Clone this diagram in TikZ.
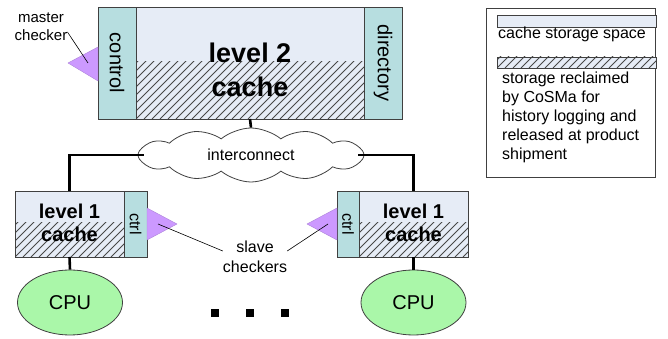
\documentclass[tikz,border=0pt]{standalone}
\usepackage{fontspec}
\setmainfont{Liberation Sans}
\usepackage{graphicx}
\usetikzlibrary{positioning,shapes.symbols,shapes.geometric}
\definecolor{storecol}{HTML}{E6ECF6}
\definecolor{stripcol}{HTML}{B7DEE0}
\definecolor{checkcol}{HTML}{CC99FF}
\definecolor{cpucol}{HTML}{AAF7A9}
\definecolor{linecol}{HTML}{404040}
\definecolor{hatchcol}{HTML}{484848}
\newcommand{\fs}[2]{\fontsize{#1}{#2}\selectfont}
\tikzset{
	box/.style = {draw=linecol, line width=0.8pt, inner sep=0pt, outer sep=0pt},
	store/.style = {box, fill=storecol},
	strip/.style = {box, fill=stripcol, font=\fs{20}{20}},
	hatched/.style = {path picture={
		\foreach \k in {-80,-72,...,240}
			\draw[hatchcol, line width=1pt] ([xshift=\k pt]path picture bounding box.south west) -- ++(80pt,80pt);
	}},
	cachetxt/.style = {align=center, inner sep=0pt},
	cpu/.style = {ellipse, draw=linecol, line width=0.8pt, fill=cpucol, minimum width=105pt, minimum height=65pt, inner sep=0pt, font=\fs{20}{20}},
	checker/.style = {fill=checkcol, draw=checkcol!85!black, line width=0.4pt},
	wire/.style = {line width=2.6pt, black},
	pointer/.style = {line width=0.6pt, black},
	note/.style = {align=center, inner sep=0pt, font=\fs{16}{20}},
	dot/.style = {fill=black, inner sep=0pt, minimum size=8pt},
}
\begin{document}
\begin{tikzpicture}[x=1pt,y=1pt]
	\useasboundingbox (0,0) rectangle (668,339);

	% level 2 cache
	\node[store, minimum width=228pt, minimum height=112pt] (l2) at (250,276) {};
	\node[box, hatched, draw=none, minimum width=228pt, minimum height=57pt, anchor=south] (l2h) at (l2.south) {};
	\draw[linecol, line width=0.8pt] (l2.south west) rectangle (l2.north east);
	\node[strip, minimum width=38pt, minimum height=112pt, left=0pt of l2] (ctl2) {\rotatebox{-90}{control}};
	\node[strip, minimum width=38pt, minimum height=112pt, right=0pt of l2] (dir) {\rotatebox{-90}{directory}};
	\node[cachetxt, font=\fs{27}{34}\bfseries] (l2txt) at (250,269) {level 2\\cache};

	% master checker
	\path[checker] ([yshift=16pt]ctl2.west) -- ++(-30,-16) -- ([yshift=-18pt]ctl2.west) -- cycle;
	\node[note, font=\fs{15}{18}] (mc) at (41,312) {master\\checker};
	\draw[pointer] ([yshift=-5pt]mc.east) -- ([xshift=-10pt]ctl2.west);

	% interconnect
	\node[cloud, cloud puffs=12, cloud puff arc=80, aspect=4.4, draw=linecol, line width=0.8pt, fill=white,
		minimum width=226pt, minimum height=54pt, inner sep=0pt, font=\fs{16}{16}] (net) at (251,184) {interconnect};

	% level 1 caches
	\node[store, minimum width=109pt, minimum height=66pt] (l1a) at (69.5,115) {};
	\node[box, hatched, draw=none, minimum width=109pt, minimum height=34pt, anchor=south] (l1ah) at (l1a.south) {};
	\draw[linecol, line width=0.8pt] (l1a.south west) rectangle (l1a.north east);
	\node[strip, minimum width=23pt, minimum height=66pt, right=0pt of l1a, font=\fs{16}{16}] (ctla) {\rotatebox{-90}{ctrl}};
	\node[cachetxt, font=\fs{20}{23}\bfseries] (l1atxt) at (69.5,116) {level 1\\cache};

	\node[store, minimum width=109pt, minimum height=66pt] (l1b) at (413.5,115) {};
	\node[box, hatched, draw=none, minimum width=109pt, minimum height=34pt, anchor=south] (l1bh) at (l1b.south) {};
	\draw[linecol, line width=0.8pt] (l1b.south west) rectangle (l1b.north east);
	\node[strip, minimum width=22pt, minimum height=66pt, left=0pt of l1b, font=\fs{16}{16}] (ctlb) {\rotatebox{-90}{ctrl}};
	\node[cachetxt, font=\fs{20}{23}\bfseries] (l1btxt) at (413.5,116) {level 1\\cache};

	% slave checkers
	\path[checker] ([yshift=16pt]ctla.east) -- ++(30,-16) -- ([yshift=-16pt]ctla.east) -- cycle;
	\path[checker] ([yshift=16pt]ctlb.west) -- ++(-30,-16) -- ([yshift=-16pt]ctlb.west) -- cycle;
	\node[note] (sc) at (255,82) {slave\\checkers};
	\draw[pointer] ([xshift=11pt]ctla.east) -- ([yshift=6pt]sc.west);
	\draw[pointer] ([yshift=6pt]sc.east) -- ([xshift=-9pt]ctlb.west);

	% CPUs
	\node[cpu] (cpua) at (70,36.5) {CPU};
	\node[cpu] (cpub) at (413.5,36.5) {CPU};

	% wires
	\draw[wire] (l2.south) -- (net.north);
	\draw[wire] ([xshift=6pt]net.west) -| (l1a.north);
	\draw[wire] ([xshift=-6pt]net.east) -| (l1b.north);
	\draw[wire] (l1a.south) -- (cpua.north);
	\draw[wire] (l1b.south) -- (cpub.north);

	\foreach \x [count=\i] in {215,250,285}
		\node[dot] (dot\i) at (\x,26) {};

	% legend
	\node[box, fill=white, minimum width=169pt, minimum height=169pt] (key) at (570.5,246.5) {};
	\node[store, minimum width=159pt, minimum height=12pt, anchor=north west] (keystore) at (497,324) {};
	\node[anchor=base west, inner sep=0pt, font=\fs{16}{19}] (keystoretxt) at (498,300) {cache storage space};
	\node[box, hatched, fill=storecol, minimum width=159pt, minimum height=11pt, anchor=north west] (keyhatch) at (497,282) {};
	\node[anchor=north west, align=left, inner sep=0pt, font=\fs{16}{19}] (keyhatchtxt) at (502,267)
		{storage reclaimed\\by CoSMa for\\history logging and\\released at product\\shipment};
\end{tikzpicture}
\end{document}
